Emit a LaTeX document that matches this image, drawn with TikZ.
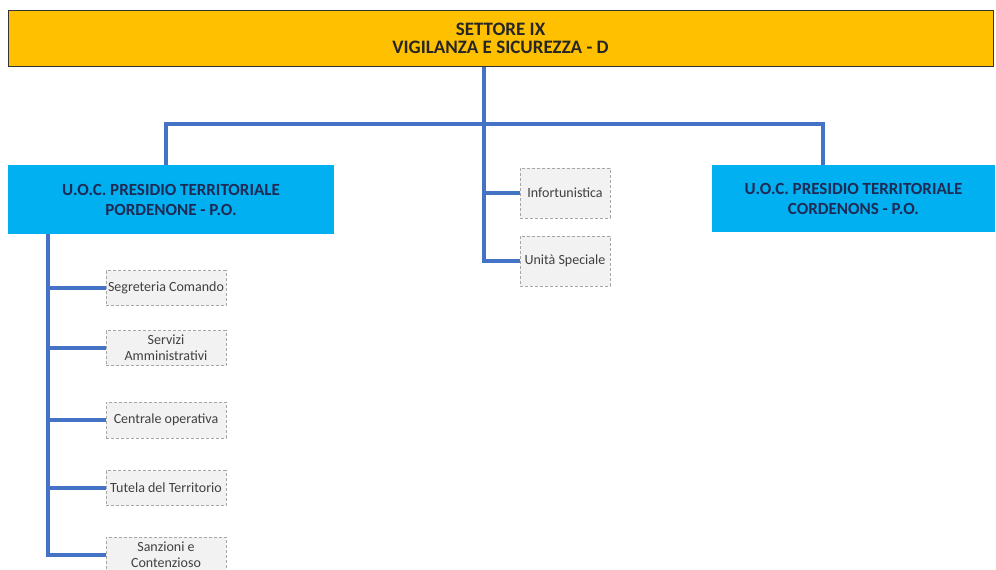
\documentclass[tikz,border=0pt]{standalone}
\usepackage{fontspec}
\setmainfont{Carlito}
\begin{document}
\begin{tikzpicture}[x=1pt,y=-1pt,
  conn/.style={draw=linkblue,line width=4pt},
  topbox/.style={draw=black!80,line width=1pt,fill=topor,minimum width=985pt,minimum height=56pt,inner sep=0pt,align=center,text=black!85,font=\fontsize{19}{18}\selectfont\bfseries},
  unitbox/.style={draw=none,fill=unitcyan,inner sep=0pt,align=center,text=navytxt,font=\fontsize{17}{20}\selectfont\bfseries},
  subbox/.style={draw=gray!70,densely dashed,line width=0.6pt,fill=gray!10,inner sep=0pt,align=center,text=black!75,font=\fontsize{14}{16}\selectfont}]
\definecolor{topor}{HTML}{FFC000}
\definecolor{unitcyan}{HTML}{00B0F0}
\definecolor{linkblue}{HTML}{4472C4}
\definecolor{navytxt}{HTML}{1F2A55}
\useasboundingbox (0,0) rectangle (996,570);
\fill[white] (0,0) rectangle (996,570);

\node[topbox] (top) at (500.5,38) {SETTORE IX\\VIGILANZA E SICUREZZA - D};
\node[unitbox,minimum width=326pt,minimum height=69pt] (pn) at (171,199.5) {U.O.C. PRESIDIO TERRITORIALE\\PORDENONE - P.O.};
\node[unitbox,minimum width=283pt,minimum height=67pt] (co) at (853.5,198.5) {U.O.C. PRESIDIO TERRITORIALE\\CORDENONS - P.O.};

\node[subbox,minimum width=90pt,minimum height=50pt] (inf) at (565,193) {Infortunistica};
\node[subbox,minimum width=90pt,minimum height=50pt] (us) at (565,261) {Unità Speciale};

\node[subbox,minimum width=120pt,minimum height=35pt] (s1) at (166,288) {Segreteria Comando};
\node[subbox,minimum width=120pt,minimum height=35pt] (s2) at (166,348) {Servizi\\Amministrativi};
\node[subbox,minimum width=120pt,minimum height=36pt] (s3) at (166,420) {Centrale operativa};
\node[subbox,minimum width=120pt,minimum height=35pt] (s4) at (166,488) {Tutela del Territorio};
\node[subbox,minimum width=120pt,minimum height=36pt] (s5) at (166,555) {Sanzioni e\\Contenzioso};

\coordinate (hub) at (484,124);
\coordinate (hl) at (166,124);
\coordinate (hr) at (823,124);
\coordinate (mb) at (484,261);
\coordinate (lt) at (48,234);
\coordinate (lb) at (48,550);

\draw[conn] (top.south -| hub) -- (hub);
\draw[conn,line join=miter] (pn.north -| hl) -- (hl) -- (hr) -- (co.north -| hr);
\draw[conn,line join=miter] (hub) -- (mb) -- (us.west);
\draw[conn] (hub |- inf.west) -- (inf.west);
\draw[conn] (pn.south -| lt) -- (lb |- s5.west) -- (s5.west);
\draw[conn] (lt |- s1.west) -- (s1.west);
\draw[conn] (lt |- s2.west) -- (s2.west);
\draw[conn] (lt |- s3.west) -- (s3.west);
\draw[conn] (lt |- s4.west) -- (s4.west);
\end{tikzpicture}
\end{document}
